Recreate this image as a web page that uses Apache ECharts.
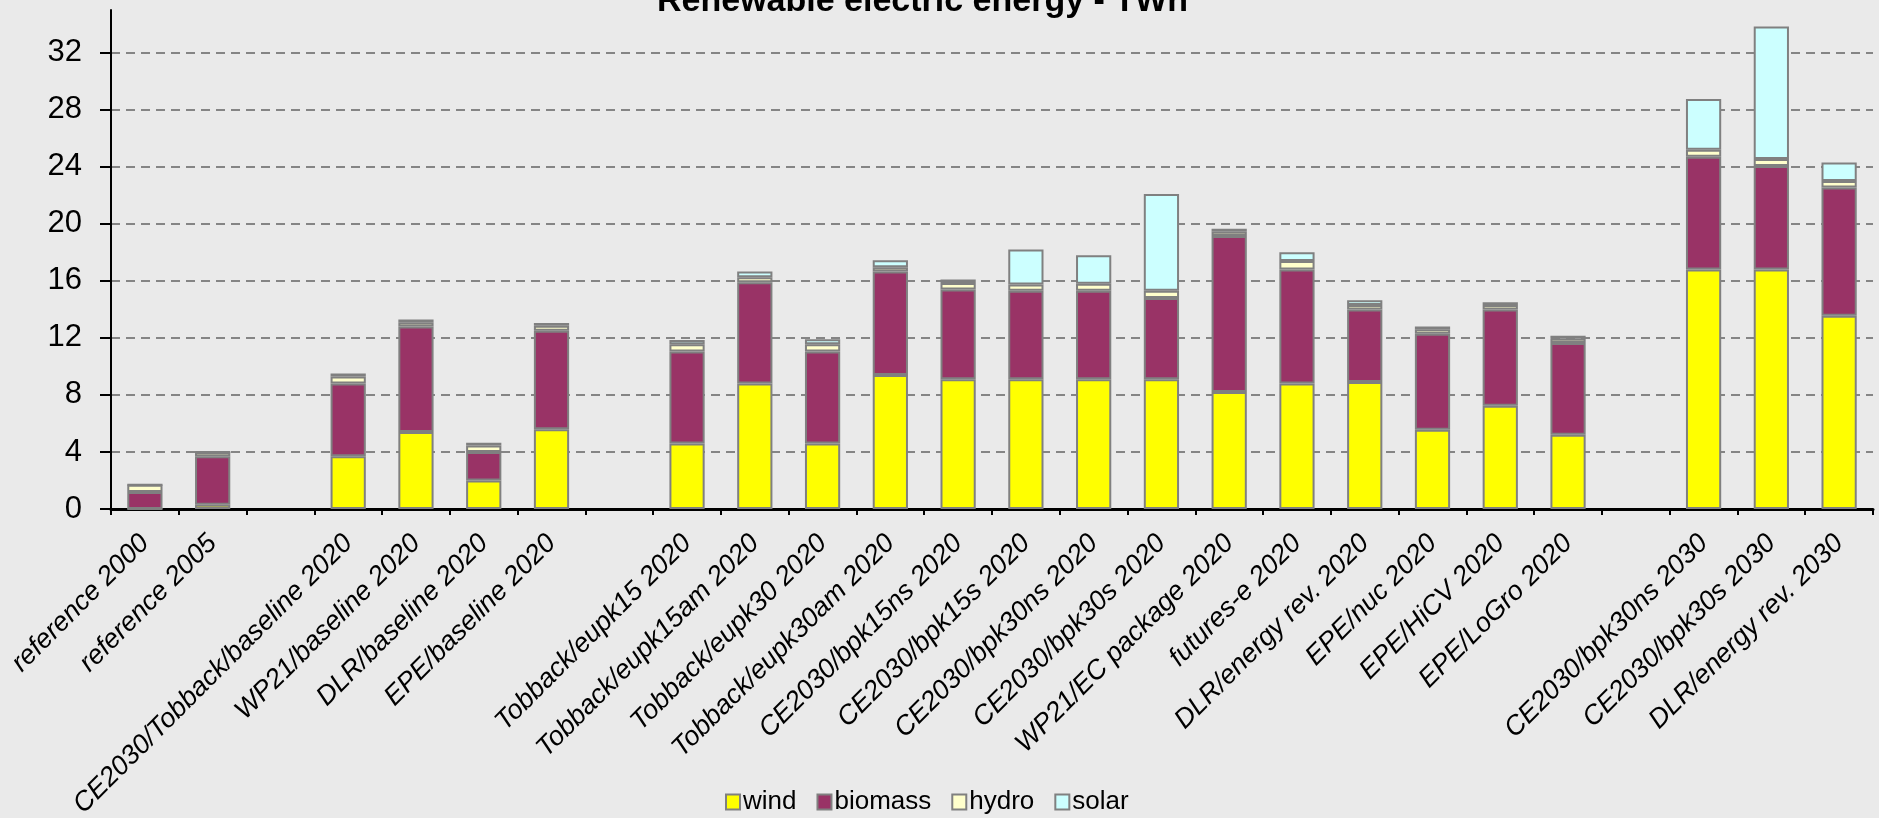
<!DOCTYPE html>
<html>
<head>
<meta charset="utf-8">
<title>Renewable electric energy - TWh</title>
<script src="https://cdn.jsdelivr.net/npm/echarts@6/dist/echarts.min.js"></script>
<style>
  html, body { margin: 0; padding: 0; background: #EAEAEA; }
  #chart { width: 1879px; height: 818px; }
</style>
</head>
<body>
<div id="chart"></div>
<script>
// Scenario labels; empty strings are spacer slots between scenario groups
const categories = [
  'reference 2000', 'reference 2005', '',
  'CE2030/Tobback/baseline 2020', 'WP21/baseline 2020', 'DLR/baseline 2020', 'EPE/baseline 2020', '',
  'Tobback/eupk15 2020', 'Tobback/eupk15am 2020', 'Tobback/eupk30 2020', 'Tobback/eupk30am 2020',
  'CE2030/bpk15ns 2020', 'CE2030/bpk15s 2020', 'CE2030/bpk30ns 2020', 'CE2030/bpk30s 2020',
  'WP21/EC package 2020', 'futures-e 2020', 'DLR/energy rev. 2020',
  'EPE/nuc 2020', 'EPE/HiCV 2020', 'EPE/LoGro 2020', '',
  'CE2030/bpk30ns 2030', 'CE2030/bpk30s 2030', 'DLR/energy rev. 2030'
];

// Generation per source, TWh
const wind    = [0,   0.3, null, 3.7, 5.4, 2.0,  5.6,  null, 4.6,  8.8,  4.6,  9.4,  9.1,  9.1,  9.1, 9.1, 8.2,   8.8, 8.9,  5.55, 7.25, 5.2,  null, 16.8, 16.8, 13.55];
const biomass = [1.2, 3.4, null, 5.1, 7.4, 2.0,  6.9,  null, 6.45, 7.1,  6.45, 7.25, 6.3,  6.2,  6.2, 5.7, 10.95, 8.0, 5.1,  6.75, 6.75, 6.45, null, 7.9,  7.25, 9.0];
const hydro   = [0.5, 0.3, null, 0.5, 0.3, 0.45, 0.35, null, 0.5,  0.35, 0.5,  0.3,  0.45, 0.45, 0.5, 0.5, 0.3,   0.6, 0.3,  0.3,  0.3,  0.3,  null, 0.5,  0.5,  0.45];
const solar   = [0,   0,   null, 0.2, 0.2, 0.2,  0.2,  null, 0.3,  0.4,  0.35, 0.5,  0.25, 2.45, 2.0, 6.8, 0.2,   0.6, 0.35, 0.2,  0.2,  0.2,  null, 3.55, 9.3,  1.3];

// Value-axis tick labels
const yTicks = [0, 4, 8, 12, 16, 20, 24, 28, 32];

const FONT = '"Liberation Sans", Arial, sans-serif';
const EDGE = '#808080';

function barSeries(name, data, color) {
  return {
    name: name,
    type: 'bar',
    stack: 'total',
    data: data,
    barWidth: '52%',
    itemStyle: { color: color, borderColor: EDGE, borderWidth: 2 },
    emphasis: { disabled: true }
  };
}

const chart = echarts.init(document.getElementById('chart'), null, { renderer: 'canvas' });
chart.setOption({
  backgroundColor: '#EAEAEA',
  animation: false,
  title: {
    text: 'Renewable electric energy - TWh',
    left: 652,
    top: -20,
    textStyle: { fontFamily: FONT, fontWeight: 'bold', fontSize: 34, color: '#000' }
  },
  legend: {
    data: ['wind', 'biomass', 'hydro', 'solar'],
    left: 720,
    bottom: -2,
    itemWidth: 14,
    itemHeight: 15,
    itemGap: 20,
    icon: 'rect',
    textStyle: { fontFamily: FONT, fontSize: 26, color: '#000', padding: [0, 0, 0, -2] }
  },
  grid: { left: 111, right: 6, top: 10, bottom: 309, outerBoundsMode: 'none' },
  xAxis: {
    type: 'category',
    data: categories,
    axisLine: { lineStyle: { color: '#000', width: 3 } },
    axisTick: { show: true, alignWithLabel: false, length: 6, lineStyle: { color: '#000', width: 2 } },
    axisLabel: {
      interval: 0,
      rotate: 45,
      margin: 30,
      fontFamily: FONT,
      fontStyle: 'italic',
      fontSize: 27,
      color: '#000'
    },
    splitLine: { show: false }
  },
  yAxis: {
    type: 'value',
    min: 0,
    max: 35,
    interval: 4,
    axisLine: { show: true, lineStyle: { color: '#000', width: 2 } },
    axisTick: { show: true, length: 11, customValues: yTicks, lineStyle: { color: '#000', width: 2 } },
    axisLabel: { customValues: yTicks, margin: 29, fontFamily: FONT, fontSize: 31, color: '#000' },
    splitLine: { show: true, lineStyle: { color: '#858585', width: 2, type: [9, 6] } }
  },
  series: [
    barSeries('wind', wind, '#FFFF00'),
    barSeries('biomass', biomass, '#993366'),
    barSeries('hydro', hydro, '#FFFFCC'),
    barSeries('solar', solar, '#CCFFFF')
  ]
});
</script>
</body>
</html>
